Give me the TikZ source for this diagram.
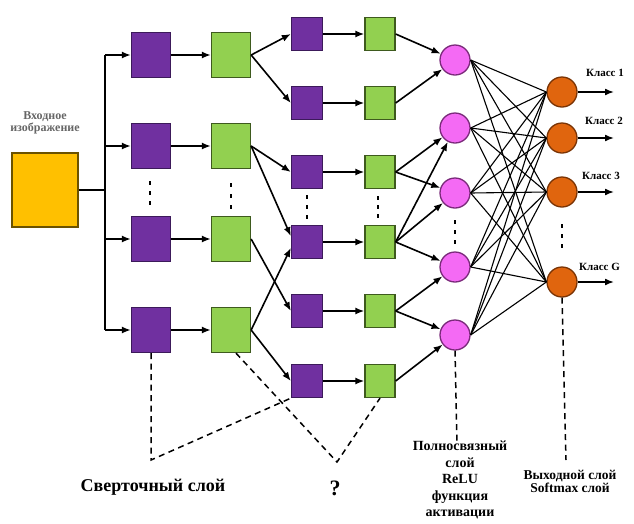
\documentclass[tikz,border=0pt]{standalone}
\usepackage{fontspec}
\setmainfont{Liberation Serif}
\usetikzlibrary{arrows.meta,calc}
\definecolor{cpurple}{HTML}{7030A0}
\definecolor{cpurpled}{HTML}{3C1A5A}
\definecolor{cgreen}{HTML}{92D050}
\definecolor{cgreend}{HTML}{3E5A1E}
\definecolor{cyellow}{HTML}{FFC000}
\definecolor{cyellowd}{HTML}{6B5200}
\definecolor{cpink}{HTML}{F46AF4}
\definecolor{cpinkd}{HTML}{7A2A7A}
\definecolor{corange}{HTML}{E0650E}
\definecolor{coranged}{HTML}{7A3405}
\tikzset{
  conv/.style={draw=cpurpled,fill=cpurple,line width=1.3pt,minimum width=39pt,minimum height=45pt,inner sep=0pt},
  pool/.style={draw=cgreend,fill=cgreen,line width=1.3pt,minimum width=39pt,minimum height=45pt,inner sep=0pt},
  sconv/.style={draw=cpurpled,fill=cpurple,line width=1.3pt,minimum width=31pt,minimum height=33pt,inner sep=0pt},
  spool/.style={draw=cgreend,fill=cgreen,line width=1.3pt,minimum width=30pt,minimum height=33pt,inner sep=0pt},
  fcn/.style={circle,draw=cpinkd,fill=cpink,line width=1.3pt,minimum size=30pt,inner sep=0pt},
  outn/.style={circle,draw=coranged,fill=corange,line width=1.3pt,minimum size=30pt,inner sep=0pt},
  arr/.style={-{Latex[length=9pt,width=7pt]},line width=1.6pt,black},
  mesh/.style={line width=1.1pt,black},
  ann/.style={line width=1.5pt,dash pattern=on 6pt off 4.5pt},
  vdots/.style={fill=black,rectangle,inner sep=0pt,minimum width=2.6pt,minimum height=4pt},
  lbl/.style={font=\bfseries,align=center,inner sep=0pt},
}
\begin{document}
\begin{tikzpicture}[x=1pt,y=-1pt]
\useasboundingbox (0,0) rectangle (634,523);
% input
\node[draw=cyellowd,fill=cyellow,line width=1.3pt,minimum width=66pt,minimum height=74pt,inner sep=0pt] (inp) at (45,190) {};
\node[align=center,font=\bfseries\fontsize{12}{10.5}\selectfont,text=black!60,inner sep=0pt] (inplbl) at (45,123) {Входное\\изображение};
% column 1 and 2
\foreach \i/\y in {1/55,2/146,3/239,4/330}{
  \node[conv] (a\i) at (151,\y) {};
  \node[pool] (b\i) at (231,\y) {};
  \coordinate (t\i) at (105,\y);
}
% columns 3 and 4
\foreach \i/\y in {1/34,2/103,3/172,4/242,5/311,6/381}{
  \node[sconv] (c\i) at (307,\y) {};
  \node[spool] (d\i) at (380,\y) {};
}
% fully connected
\foreach \i/\y in {1/60,2/128,3/193,4/267,5/335}{
  \node[fcn] (p\i) at (455,\y) {};
}
% output
\foreach \i/\y in {1/92,2/138,3/192,4/282}{
  \node[outn] (o\i) at (562,\y) {};
  \coordinate (e\i) at (614,\y);
  \draw[arr] (o\i.east) -- (e\i);
}
\node[lbl,font=\bfseries\fontsize{11}{11}\selectfont,anchor=west] (k1) at (586,73) {Класс 1};
\node[lbl,font=\bfseries\fontsize{11}{11}\selectfont,anchor=west] (k2) at (585,121) {Класс 2};
\node[lbl,font=\bfseries\fontsize{11}{11}\selectfont,anchor=west] (k3) at (582,176) {Класс 3};
\node[lbl,font=\bfseries\fontsize{11}{11}\selectfont,anchor=west] (k4) at (579,267) {Класс G};
% trunk
\coordinate (ti) at (105,190);
\draw[line width=1.6pt] (inp.east) -- (ti);
\draw[line width=1.6pt] (t1) -- (t4);
\foreach \i in {1,2,3,4}{
  \draw[arr] (t\i) -- (a\i.west);
  \draw[arr] (a\i.east) -- (b\i.west);
}
% col2 -> col3
\draw[arr] (b1.east) -- (c1.west);
\draw[arr] (b1.east) -- (c2.west);
\draw[arr] (b2.east) -- (c3.west);
\draw[arr] (b2.east) -- (c4.160);
\draw[arr] (b3.east) -- (c5.west);
\draw[arr] (b4.east) -- (c4.200);
\draw[arr] (b4.east) -- (c6.west);
% col3 -> col4
\foreach \i in {1,...,6}{ \draw[arr] (c\i.east) -- (d\i.west); }
% col4 -> fc
\draw[arr] (d1.east) -- (p1);
\draw[arr] (d2.east) -- (p1);
\draw[arr] (d3.east) -- (p2);
\draw[arr] (d3.east) -- (p3);
\draw[arr] (d4.east) -- (p2);
\draw[arr] (d4.east) -- (p3);
\draw[arr] (d4.east) -- (p4);
\draw[arr] (d5.east) -- (p4);
\draw[arr] (d5.east) -- (p5);
\draw[arr] (d6.east) -- (p5);
% fc -> output mesh
\foreach \i in {1,...,5}{
  \foreach \j in {1,...,4}{
    \draw[mesh] (p\i.east) -- (o\j.west);
  }
}
% dots
\foreach \x/\ya/\yb/\yc in {150/183/193/203, 231/185/196/207, 307/197/207/217, 378/198/207/216, 455/222/232/242, 562/226/236/246}{
  \node[vdots] at (\x,\ya) {};
  \node[vdots] at (\x,\yb) {};
  \node[vdots] at (\x,\yc) {};
}
% annotations
\coordinate (v1) at (151,460);
\coordinate (v2) at (337,462);
\coordinate (v3) at (457,444);
\coordinate (v4) at (566,460);
\draw[ann] (a4.south) -- (v1) -- (c6.south west);
\draw[ann] ($(b4.south)+(5,0)$) -- (v2) -- (d6.south);
\draw[ann] (p5.south) -- (v3);
\draw[ann] (o4.south) -- (v4);
\node[lbl,font=\bfseries\fontsize{18}{18}\selectfont] (l1) at (153,487) {Сверточный слой};
\node[lbl,font=\bfseries\fontsize{22}{22}\selectfont] (l2) at (335,488) {?};
\node[lbl,font=\bfseries\fontsize{14}{16.5}\selectfont,anchor=north] (l3) at (460,441) {Полносвязный\\слой\\ReLU\\функция\\активации};
\node[lbl,font=\bfseries\fontsize{13.5}{13}\selectfont,anchor=north] (l4) at (570,470) {Выходной слой\\Softmax слой};
\end{tikzpicture}
\end{document}
